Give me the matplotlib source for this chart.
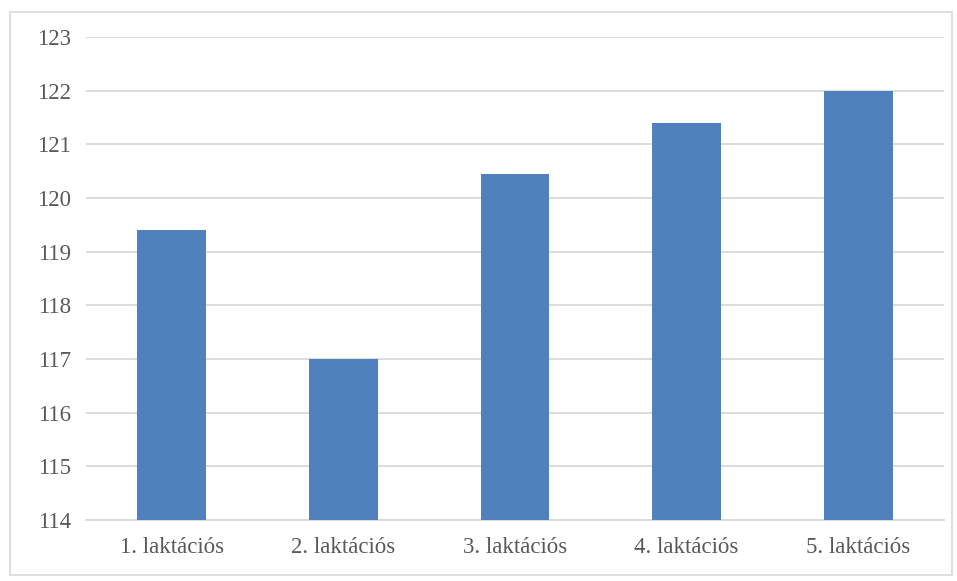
import matplotlib
matplotlib.use("Agg")
import matplotlib.pyplot as plt
from matplotlib.patches import Rectangle

categories = ["1. laktációs", "2. laktációs", "3. laktációs", "4. laktációs", "5. laktációs"]
values = [119.4, 117.0, 120.45, 121.4, 122.0]
yticks = [114, 115, 116, 117, 118, 119, 120, 121, 122, 123]

plt.rcParams['font.family'] = ['Liberation Serif', 'DejaVu Serif']

W, H = 957, 581
fig = plt.figure(figsize=(W/100, H/100), dpi=100)
ax = fig.add_axes([86/W, 1-520/H, (944-86)/W, (520-37)/H])

x = list(range(len(categories)))
ax.bar(x, [v - 114 for v in values], bottom=114, width=0.4, color='#4F81BD', zorder=3)
ax.set_xlim(-0.5, 4.5)
ax.set_ylim(114, 123)
ax.set_yticks(yticks)
ax.set_yticklabels([str(t) for t in yticks])
ax.set_xticks(x)
ax.set_xticklabels(categories)
ax.grid(axis='y', color='#D9D9D9', linewidth=1.3, zorder=0)
for s in ['top', 'right', 'left']:
    ax.spines[s].set_visible(False)
ax.spines['bottom'].set_color('#D9D9D9')
ax.spines['bottom'].set_linewidth(1.3)
ax.tick_params(axis='both', length=0, labelsize=16.5, colors='#595959')
ax.tick_params(axis='y', pad=11)
ax.tick_params(axis='x', pad=12)

fig.patches.append(Rectangle((10/W, 1-575/H), (952-10)/W, (575-12)/H,
                             transform=fig.transFigure, fill=False,
                             edgecolor='#D9D9D9', linewidth=1.2))

fig.savefig('out.png', dpi=100)
